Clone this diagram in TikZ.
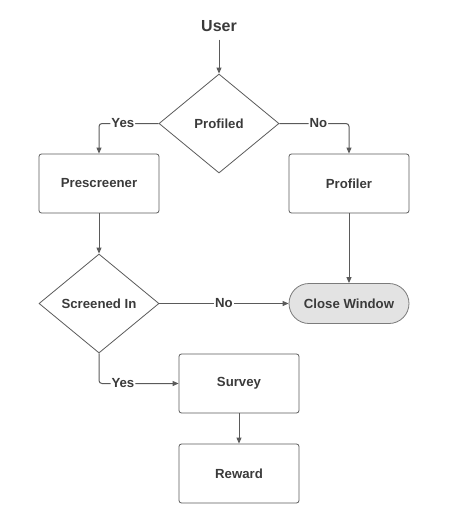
\documentclass[tikz,border=0pt]{standalone}
\usepackage{fontspec}
\setmainfont{Liberation Sans}
\usetikzlibrary{shapes.geometric,shapes.misc,arrows.meta}
\definecolor{linec}{HTML}{5A5A5A}
\definecolor{textc}{HTML}{3A3A3A}
\definecolor{termfill}{HTML}{E3E3E3}
\begin{document}
\begin{tikzpicture}[x=1pt,y=-1pt,
  font=\fontsize{13.2}{15}\selectfont\bfseries, text=textc,
  procbox/.style={draw=linec, line width=0.8pt, rounded corners=2.5pt,
    minimum width=120pt, minimum height=59pt, inner sep=0pt},
  decbox/.style={draw=linec, line width=0.8pt, diamond, aspect=1.21,
    minimum width=120pt, minimum height=99pt, inner sep=0pt},
  termbox/.style={draw=linec!80, line width=0.8pt, fill=termfill,
    rounded rectangle, minimum width=120pt, minimum height=40pt, inner sep=0pt},
  link/.style={draw=linec, line width=1pt, rounded corners=3pt,
    -{Triangle[length=6pt,width=5pt]}},
  lbl/.style={fill=white, inner sep=1pt, text=textc}]
\useasboundingbox (0,0) rectangle (448,515);
% nodes
\node (user) at (219,26.5) {\fontsize{16}{18}\selectfont User};
\node[decbox] (profiled) at (219,123.5) {Profiled};
\node[procbox] (pre) at (99,183.5) {Prescreener};
\node[procbox] (prof) at (349,183.5) {Profiler};
\node[decbox] (scr) at (99,303.5) {Screened In};
\node[termbox] (close) at (349,303.5) {Close Window};
\node[procbox] (survey) at (239,383.5) {Survey};
\node[procbox] (reward) at (239,473.5) {Reward};
% connectors
\draw[link] (user.south) ++(0,4) -- (profiled.north);
\draw[link] (profiled.west) -| node[lbl, pos=0.3] {Yes} (pre.north);
\draw[link] (profiled.east) -| node[lbl, pos=0.28] {No} (prof.north);
\draw[link] (pre.south) -- (scr.north);
\draw[link] (prof.south) -- (close.north);
\draw[link] (scr.east) -- node[lbl, pos=0.5] {No} (close.west);
\draw[link] (scr.south) |- node[lbl, pos=0.65] {Yes} (survey.west);
\draw[link] (survey.south) -- (reward.north);
\end{tikzpicture}
\end{document}
